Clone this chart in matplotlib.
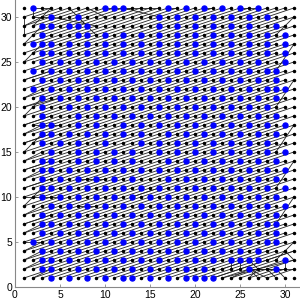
import matplotlib
matplotlib.use("Agg")
import matplotlib.pyplot as plt

# grid of nodes 1..31 in both directions
xs = list(range(1, 32))
ys = list(range(1, 32))

# blue nodes, per row (y -> list of x)
blue = {
    31: [2, 10, 11, 12, 17, 19, 21, 23, 25, 27],
    30: [4, 7, 16, 18, 20, 22, 24, 26, 28],
    29: [3, 4, 6, 7, 8, 16, 18, 20, 22, 24, 26, 29],
    28: [3, 7, 8, 10, 12, 14, 16, 18, 20, 22, 24, 26, 28, 30],
    27: [2, 3, 4, 6, 8, 10, 12, 14, 16, 18, 20, 22, 24, 26, 28, 30],
    26: [3, 4, 6, 8, 10, 12, 14, 16, 18, 20, 22, 24, 26, 28, 30],
    25: [3, 5, 7, 9, 11, 13, 15, 17, 19, 21, 23, 25, 27, 30],
    24: [2, 4, 6, 8, 10, 12, 14, 16, 18, 20, 22, 24, 26, 28, 29],
    23: [3, 5, 7, 9, 11, 13, 15, 17, 19, 21, 23, 25, 27, 29],
    22: [2, 4, 6, 8, 10, 12, 14, 16, 18, 20, 22, 24, 26, 28, 29, 30],
    21: [3, 5, 7, 9, 11, 13, 15, 17, 19, 21, 23, 25, 27, 29],
    20: [3, 6, 8, 10, 12, 14, 16, 18, 20, 22, 24, 26, 28],
    19: [3, 7, 9, 11, 13, 15, 17, 19, 21, 23, 25, 27, 29],
    18: [3, 4, 7, 9, 12, 14, 16, 18, 20, 22, 24, 26, 28, 30],
    17: [3, 4, 6, 8, 10, 12, 14, 17, 19, 21, 23, 25, 27, 29],
    16: [3, 5, 7, 10, 14, 16, 18, 20, 22, 24, 26, 28],
    15: [4, 7, 9, 11, 13, 16, 18, 20, 22, 24, 26, 28, 30],
    14: [3, 4, 7, 9, 11, 13, 17, 19, 21, 23, 25, 27, 29],
    13: [3, 4, 6, 8, 10, 12, 14, 16, 18, 20, 22, 24, 26, 28, 30],
    12: [3, 5, 7, 9, 11, 13, 17, 19, 21, 23, 25, 27, 29],
    11: [3, 4, 6, 8, 10, 12, 14, 16, 18, 20, 22, 24, 26, 28, 30],
    10: [3, 5, 7, 9, 11, 13, 15, 17, 19, 21, 23, 25, 27, 29],
    9: [4, 6, 8, 10, 12, 14, 16, 18, 20, 22, 24, 26, 28, 30],
    8: [3, 5, 7, 9, 11, 13, 15, 17, 19, 21, 23, 25, 27, 29],
    7: [3, 4, 6, 8, 10, 12, 14, 16, 18, 20, 22, 24, 26, 28, 29],
    6: [3, 5, 7, 9, 11, 13, 15, 17, 19, 21, 23, 25, 27, 29],
    5: [2, 4, 6, 8, 10, 12, 14, 16, 18, 20, 22, 24, 26, 28, 29],
    4: [3, 5, 7, 9, 11, 13, 15, 17, 19, 21, 23, 25, 27],
    3: [3, 4, 6, 8, 10, 12, 14, 16, 18, 20, 22, 24, 25, 26, 27, 30],
    2: [3, 4, 7, 9, 11, 13, 15, 17, 19, 21, 26, 29],
    1: [4, 6, 8, 10, 12, 13, 15, 17, 19, 20, 21, 22],
}

# each node is linked to the node 3 columns right, one row up
step_x = 3
step_y = 1

# irregular links near the edges, ((x0, y0), (x1, y1))
extra_edges = [
    ((2, 31), (4, 31)), ((2, 31), (2, 30)), ((2, 30), (4, 30)), ((1, 30), (1, 28)),
    ((1, 29), (3, 30)), ((2, 29), (4, 31)), ((4, 30), (9, 29)), ((6, 31), (8, 29)),
    ((7, 30), (9, 28)), ((8, 31), (10, 30)), ((12, 31), (16, 30)), ((10, 31), (16, 31)),
    ((17, 31), (18, 31)), ((21, 31), (22, 31)), ((25, 31), (27, 31)),
    ((1, 27), (3, 29)), ((1, 25), (3, 27)), ((1, 23), (4, 24)), ((1, 21), (3, 22)),
    ((1, 20), (5, 21)), ((1, 19), (3, 21)), ((1, 18), (4, 19)), ((1, 17), (3, 18)),
    ((1, 16), (4, 17)), ((1, 15), (3, 17)), ((1, 14), (3, 15)), ((1, 13), (4, 14)),
    ((1, 12), (3, 13)), ((1, 11), (4, 12)), ((1, 10), (5, 10)), ((1, 9), (3, 11)),
    ((1, 8), (3, 9)), ((1, 7), (4, 8)), ((1, 6), (3, 7)), ((1, 5), (3, 5)),
    ((1, 4), (3, 5)), ((1, 3), (3, 4)), ((1, 2), (3, 3)), ((2, 1), (4, 2)),
    ((7, 12), (10, 12)), ((2, 18), (5, 18)), ((13, 10), (16, 11)), ((7, 9), (9, 9)),
    ((29, 28), (31, 30)), ((29, 24), (31, 27)), ((29, 20), (31, 23)), ((29, 15), (31, 18)),
    ((29, 11), (31, 14)), ((29, 7), (31, 10)),
    ((22, 1), (31, 4)), ((23, 1), (31, 3)), ((24, 3), (24, 2)), ((25, 3), (25, 2)),
    ((26, 2), (24, 1)), ((26, 2), (27, 1)), ((26, 2), (28, 1)), ((26, 2), (30, 2)),
    ((26, 2), (31, 2)), ((30, 4), (29, 3)), ((30, 4), (31, 3)), ((30, 4), (31, 5)),
    ((30, 3), (30, 2)), ((29, 2), (30, 1)), ((28, 2), (29, 1)), ((27, 2), (26, 1)),
    ((23, 2), (26, 3)), ((26, 3), (27, 2)),
]

fig = plt.figure(figsize=(3.0, 3.01), dpi=100)
ax = fig.add_axes([0.05, 0.0465, 0.96, 0.957])

for y in ys:
    for x in xs:
        if x + step_x <= 31 and y + step_y <= 31:
            ax.plot([x, x + step_x], [y, y + step_y], color="#222222", linewidth=0.6, zorder=1)

for (x0, y0), (x1, y1) in extra_edges:
    ax.plot([x0, x1], [y0, y1], color="#222222", linewidth=0.6, zorder=1)

gx = [x for y in ys for x in xs]
gy = [y for y in ys for x in xs]
ax.plot(gx, gy, linestyle="none", marker="o", markersize=1.5, color="black", zorder=2)

bx = [x for y in blue for x in blue[y]]
by = [y for y in blue for x in blue[y]]
ax.plot(bx, by, linestyle="none", marker="o", markersize=3.6, color="#0000ff", zorder=3)

ax.set_xlim(0, 32)
ax.set_ylim(0, 32)
ax.set_xticks([0, 5, 10, 15, 20, 25, 30])
ax.set_yticks([0, 5, 10, 15, 20, 25, 30])
ax.spines["top"].set_visible(False)
ax.spines["right"].set_visible(False)
for s in ["left", "bottom"]:
    ax.spines[s].set_color("#888888")
    ax.spines[s].set_linewidth(0.8)
ax.tick_params(direction="in", length=2, width=0.6, color="#888888", labelsize=7.5, pad=2)
for lab in ax.get_xticklabels() + ax.get_yticklabels():
    lab.set_family("Liberation Sans")

fig.savefig("out.png", dpi=100)
